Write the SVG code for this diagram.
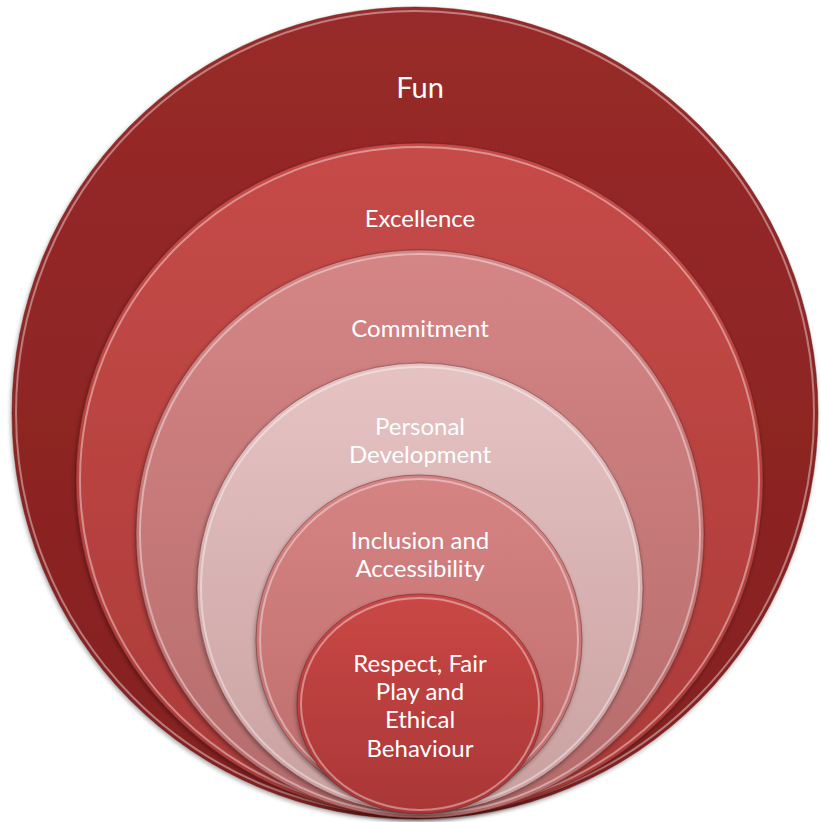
<svg xmlns="http://www.w3.org/2000/svg" width="821" height="822" viewBox="0 0 821 822">
<style>
  .lbl { font-family: Lato, "Liberation Sans", sans-serif; fill: #ffffff; text-anchor: middle; font-size: 24px; }
  .big { font-size: 29px; }
  .rim { fill: none; stroke: #ffffff; stroke-opacity: 0.4; stroke-width: 2; }
  .edge { stroke: #5a1a1a; stroke-opacity: 0.45; stroke-width: 1; }
</style>
<defs>
  <linearGradient id="g1" x1="0" y1="0" x2="0" y2="1">
    <stop offset="0" stop-color="#982a29"/><stop offset="1" stop-color="#84201f"/>
  </linearGradient>
  <linearGradient id="g2" x1="0" y1="0" x2="0" y2="1">
    <stop offset="0" stop-color="#c64b48"/><stop offset="1" stop-color="#aa3a38"/>
  </linearGradient>
  <linearGradient id="g3" x1="0" y1="0" x2="0" y2="1">
    <stop offset="0" stop-color="#d58585"/><stop offset="1" stop-color="#b56b6b"/>
  </linearGradient>
  <linearGradient id="g4" x1="0" y1="0" x2="0" y2="1">
    <stop offset="0" stop-color="#e6c3c3"/><stop offset="1" stop-color="#c9a0a0"/>
  </linearGradient>
  <linearGradient id="g5" x1="0" y1="0" x2="0" y2="1">
    <stop offset="0" stop-color="#d68383"/><stop offset="1" stop-color="#bd6c6c"/>
  </linearGradient>
  <linearGradient id="g6" x1="0" y1="0" x2="0" y2="1">
    <stop offset="0" stop-color="#ca4846"/><stop offset="1" stop-color="#a93636"/>
  </linearGradient>
  <filter id="sh" x="-10%" y="-10%" width="120%" height="120%">
    <feDropShadow dx="-1" dy="2" stdDeviation="2" flood-color="#000000" flood-opacity="0.35"/>
  </filter>
</defs>

<g id="fun">
  <ellipse cx="415" cy="413" rx="403" ry="406" fill="url(#g1)" class="edge" filter="url(#sh)"/>
  <ellipse cx="415" cy="413" rx="399" ry="402" class="rim"/>
  <text x="420" y="98" class="lbl big">Fun</text>
</g>
<g id="excellence">
  <ellipse cx="419.5" cy="480" rx="343.5" ry="337" fill="url(#g2)" class="edge" filter="url(#sh)"/>
  <ellipse cx="419.5" cy="480" rx="339.5" ry="333" class="rim"/>
  <text x="420" y="227" class="lbl">Excellence</text>
</g>
<g id="commitment">
  <ellipse cx="420" cy="534" rx="284" ry="284" fill="url(#g3)" class="edge" filter="url(#sh)"/>
  <ellipse cx="420" cy="534" rx="280" ry="280" class="rim"/>
  <text x="420" y="337" class="lbl">Commitment</text>
</g>
<g id="personal-development">
  <ellipse cx="420" cy="588" rx="223" ry="225" fill="url(#g4)" class="edge" filter="url(#sh)"/>
  <ellipse cx="420" cy="588" rx="219" ry="221" class="rim"/>
  <text x="420" y="435" class="lbl">Personal</text>
  <text x="420" y="463" class="lbl">Development</text>
</g>
<g id="inclusion-accessibility">
  <ellipse cx="419" cy="640" rx="163" ry="165" fill="url(#g5)" class="edge" filter="url(#sh)"/>
  <ellipse cx="419" cy="640" rx="159" ry="161" class="rim"/>
  <text x="420" y="549" class="lbl">Inclusion and</text>
  <text x="420" y="577" class="lbl">Accessibility</text>
</g>
<g id="respect">
  <ellipse cx="420" cy="704" rx="123" ry="110" fill="url(#g6)" class="edge" filter="url(#sh)"/>
  <ellipse cx="420" cy="704" rx="119" ry="106" class="rim"/>
  <text x="420" y="672" class="lbl">Respect, Fair</text>
  <text x="420" y="700" class="lbl">Play and</text>
  <text x="420" y="728" class="lbl">Ethical</text>
  <text x="420" y="757" class="lbl">Behaviour</text>
</g>
<g id="connectors"/>
</svg>
